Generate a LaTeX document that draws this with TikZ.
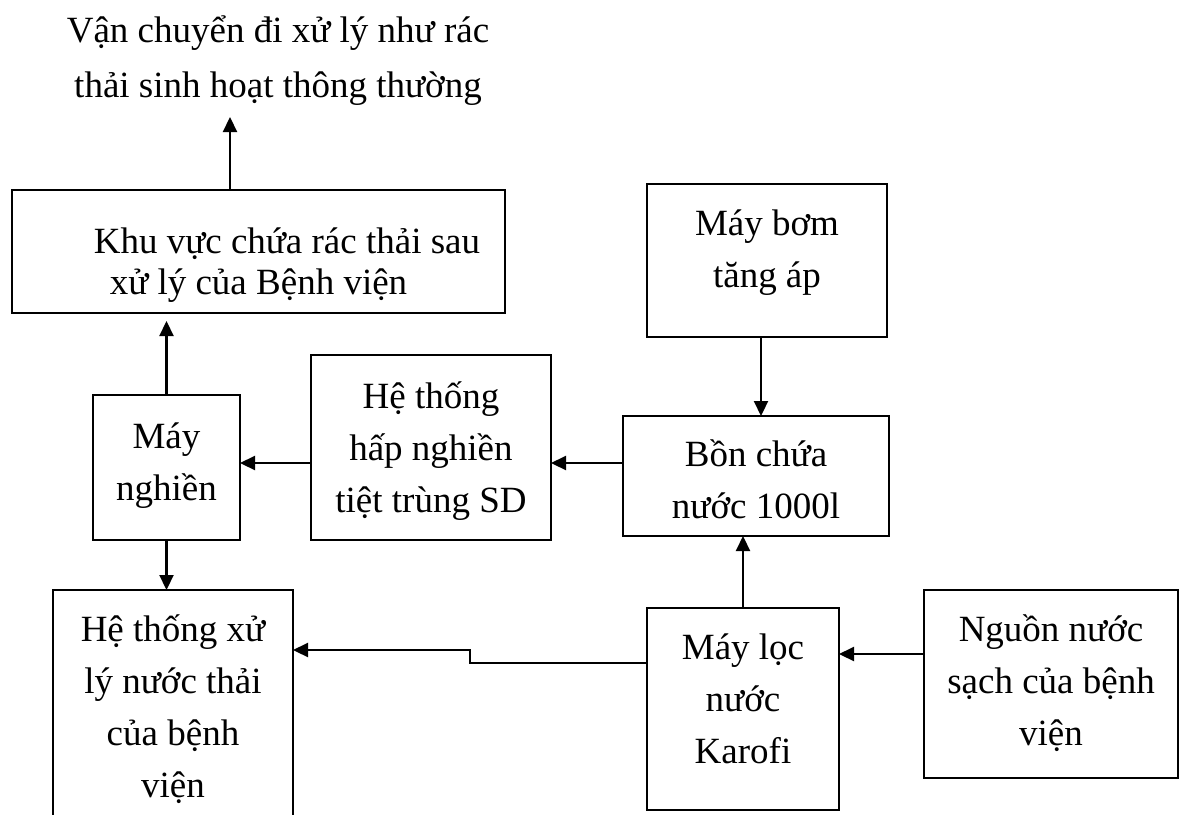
\documentclass[tikz,border=0pt]{standalone}
\usepackage{fontspec}
\setmainfont{Liberation Serif}
\usetikzlibrary{arrows.meta,fit}
\begin{document}
\begin{tikzpicture}[x=0.5pt,y=-0.5pt,
  box/.style={draw, line width=1.2pt, inner sep=0pt, outer sep=0pt},
  txt/.style={align=center, inner sep=0pt, anchor=base,
    font=\fontsize{18.5pt}{26pt}\selectfont},
  arr/.style={line width=1.1pt, -{Triangle[length=7.5pt,width=7pt]}}]
\useasboundingbox (0,0) rectangle (1183,814);
\clip (0,0) rectangle (1183,814);

% boxes
\node[box, fit={(12,190) (505,313)}] (khu) {};
\node[box, fit={(93,395) (240,540)}] (ngh) {};
\node[box, fit={(311,355) (551,540)}] (hap) {};
\node[box, fit={(647,184) (887,337)}] (bom) {};
\node[box, fit={(623,416) (889,536)}] (bon) {};
\node[box, fit={(53,590) (293,840)}] (xl) {};
\node[box, fit={(647,608) (839,810)}] (kar) {};
\node[box, fit={(924,590) (1178,778)}] (ngu) {};

% texts (anchored at the baseline of their last line)
\node[txt, font=\fontsize{18.5pt}{27.5pt}\selectfont] (dest) at (278,97)
  {Vận chuyển đi xử lý như rác\\thải sinh hoạt thông thường};
\node[txt, font=\fontsize{18.5pt}{20.5pt}\selectfont] (khuT) at (258.5,294)
  {\hspace*{28.5pt}Khu vực chứa rác thải sau\\xử lý của Bệnh viện};
\node[txt] (nghT) at (166.5,500) {Máy\\nghiền};
\node[txt] (hapT) at (431,512) {Hệ thống\\hấp nghiền\\tiệt trùng SD};
\node[txt] (bomT) at (767,287) {Máy bơm\\tăng áp};
\node[txt] (bonT) at (756,518) {Bồn chứa\\nước 1000l};
\node[txt] (xlT) at (173,797) {Hệ thống xử\\lý nước thải\\của bệnh\\viện};
\node[txt] (karT) at (743,763) {Máy lọc\\nước\\Karofi};
\node[txt] (nguT) at (1051,745) {Nguồn nước\\sạch của bệnh\\viện};

% helper points for connector rows and columns
\coordinate (destIn) at (230,117);
\coordinate (rowMid) at (0,463);
\coordinate (colPump) at (761,0);
\coordinate (rowSrc) at (0,654);
\coordinate (jogA) at (470,663);
\coordinate (jogB) at (470,650);

% connectors
\draw[arr] (khu.north -| destIn) -- (destIn);
\draw[arr, shorten >=4pt] (ngh.north) -- (ngh.north |- khu.south);
\draw[arr] (hap.west |- rowMid) -- (ngh.east |- rowMid);
\draw[arr] (bon.west |- rowMid) -- (hap.east |- rowMid);
\draw[arr] (bom.south -| colPump) -- (bon.north -| colPump);
\draw[arr] (kar.north) -- (kar.north |- bon.south);
\draw[arr] (ngu.west |- rowSrc) -- (kar.east |- rowSrc);
\draw[arr] (kar.west |- jogA) -- (jogA) -- (jogB) -- (xl.east |- jogB);
\draw[arr] (ngh.south) -- (ngh.south |- xl.north);
\end{tikzpicture}
\end{document}
